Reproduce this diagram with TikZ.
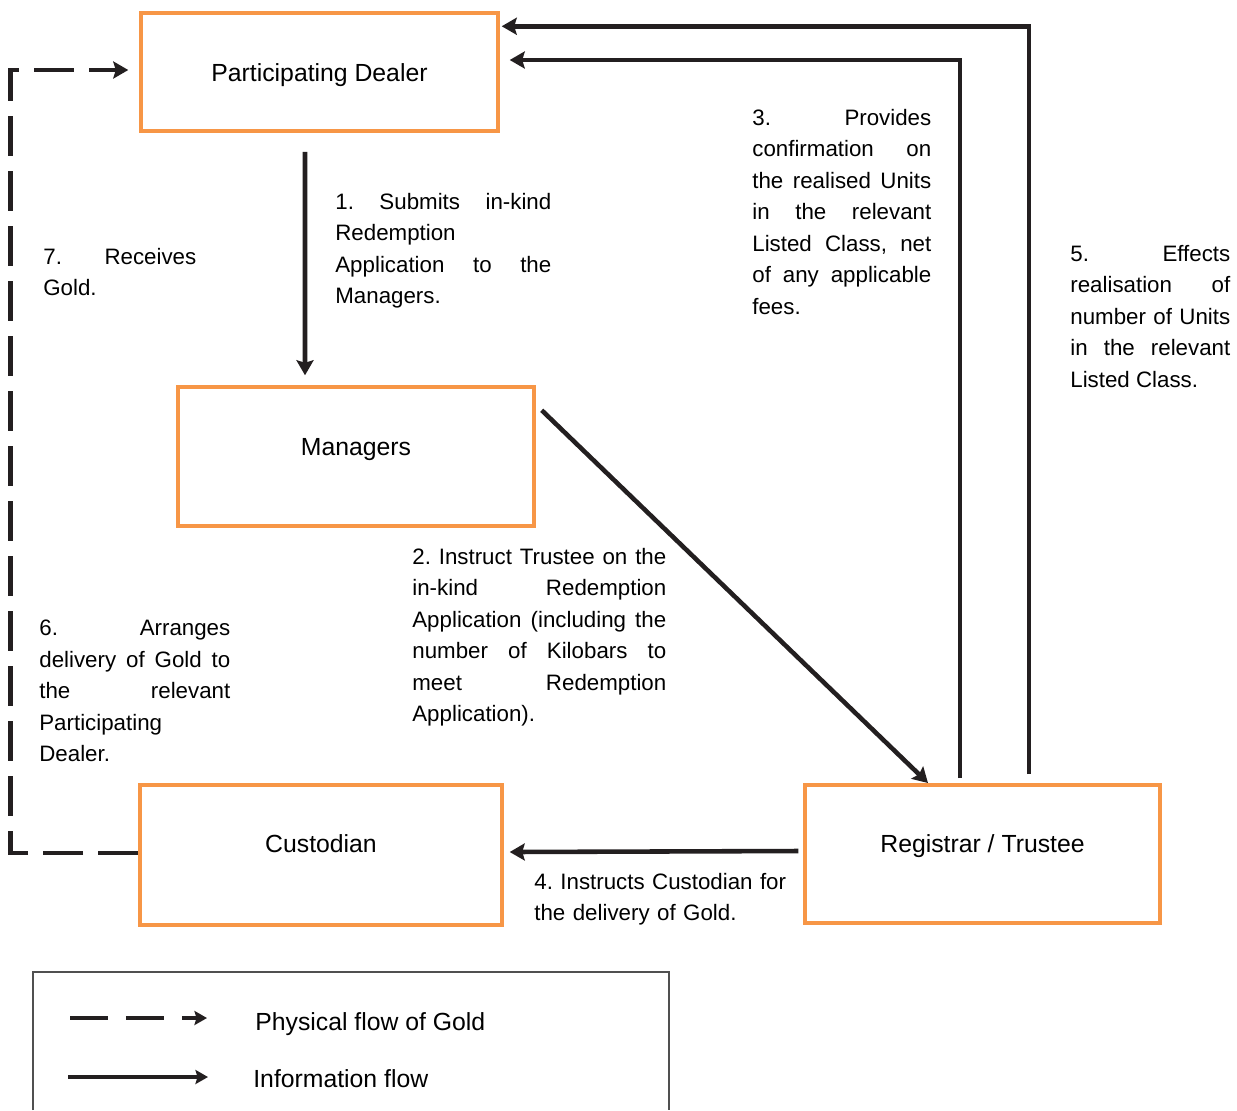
\documentclass[tikz,border=0pt]{standalone}
\usepackage{fontspec}
\setmainfont{Liberation Sans}
\usetikzlibrary{arrows.meta}
\definecolor{boxorange}{RGB}{247,150,70}
\definecolor{arrowgray}{RGB}{35,31,32}
\definecolor{framegray}{RGB}{80,80,80}

\begin{document}
\begin{tikzpicture}[x=0.02cm,y=-0.02cm,
        party/.style={draw=boxorange, line width=2pt, inner sep=0pt},
        partytext/.style={font=\fontsize{14.1}{17}\selectfont, inner sep=0pt},
        annot/.style={anchor=north west, inner sep=0pt, text width=#1, align=justify,
          font=\fontsize{12.7}{17.9}\selectfont\frenchspacing},
        info/.style={draw=arrowgray, line width=2.6pt, -{Stealth[length=0.3cm,width=0.34cm,inset=0.05cm]}},
        goldflow/.style={info, dash pattern=on 0.8cm off 0.3cm},
        legtip/.style={-{Stealth[length=0.25cm,width=0.28cm,inset=0.04cm]}}]
        \useasboundingbox (0,0) rectangle (1237,1110);

        % Parties.
        \node[party, minimum width=7.15cm, minimum height=2.37cm] (pd) at (319.5,72) {};
        \node[party, minimum width=7.13cm, minimum height=2.79cm] (mgr) at (356,456.5) {};
        \node[party, minimum width=7.25cm, minimum height=2.81cm] (cus) at (321,855) {};
        \node[party, minimum width=7.11cm, minimum height=2.77cm] (reg) at (982.5,854) {};
        \node[partytext] (pdt) at ([yshift=-0.06cm]pd.center) {Participating Dealer};
        \node[partytext] (mgrt) at ([yshift=0.13cm]mgr.center) {Managers};
        \node[partytext] (cust) at ([yshift=0.22cm]cus.center) {Custodian};
        \node[partytext] (regt) at ([yshift=0.16cm]reg.center) {Registrar / Trustee};

        % Information flow.
        \draw[info] ([xshift=-0.29cm,yshift=-0.375cm]pd.south) -- ([xshift=-1.02cm,yshift=0.195cm]mgr.north);
        \draw[info] ([xshift=0.115cm,yshift=-0.505cm]mgr.north east) -- ([xshift=-1.09cm]reg.north);
        \draw[info] ([xshift=-0.45cm,yshift=0.1cm]reg.north) |- ([xshift=0.195cm,yshift=0.24cm]pd.east);
        \draw[info] ([xshift=-0.095cm,yshift=0.06cm]reg.west) -- ([xshift=0.115cm,yshift=0.06cm]cus.east);
        \draw[info] ([xshift=0.93cm,yshift=0.18cm]reg.north) |- ([xshift=0.035cm,yshift=-0.305cm]pd.north east);

        % Physical flow of Gold.
        \draw[goldflow] ([yshift=0.04cm]cus.west) -- ++(-2.555cm,0) |- ([xshift=-0.215cm,yshift=0.04cm]pd.west);

        % Steps.
        \node[annot=4.32cm] (s1) at (335,193) {1. Submits in-kind\linebreak Redemption\linebreak Application to the\linebreak Managers.};
        \node[annot=5.08cm] (s2) at (412,548) {2. Instruct Trustee on the\linebreak in-kind Redemption\linebreak Application (including the\linebreak number of Kilobars to\linebreak meet Redemption\linebreak Application).};
        \node[annot=3.58cm] (s3) at (752,109) {3. Provides\linebreak confirmation on\linebreak the realised Units\linebreak in the relevant\linebreak Listed Class, net\linebreak of any applicable\linebreak fees.};
        \node[annot=5.2cm, align=left] (s4) at (534,873) {4. Instructs Custodian for\\the delivery of Gold.};
        \node[annot=3.2cm] (s5) at (1070,245) {5. Effects\linebreak realisation of\linebreak number of Units\linebreak in the relevant\linebreak Listed Class.};
        \node[annot=3.82cm] (s6) at (39,620) {6. Arranges\linebreak delivery of Gold to\linebreak the relevant\linebreak Participating\linebreak Dealer.};
        \node[annot=3.06cm] (s7) at (43,248) {7. Receives\linebreak Gold.};

        % Legend.
        \draw[framegray, line width=0.6pt] (33,1110) -- (33,972) -- (669,972) -- (669,1110);
        \coordinate (lg1a) at (70,1018);
        \coordinate (lg1b) at (207,1018);
        \coordinate (lg2a) at (68,1077);
        \coordinate (lg2b) at (208,1077);
        \draw[info, legtip, dash pattern=on 0.76cm off 0.36cm] (lg1a) -- (lg1b);
        \draw[info, legtip] (lg2a) -- (lg2b);
        \node[partytext, anchor=west] (lgt1) at (255,1024) {Physical flow of Gold};
        \node[partytext, anchor=west] (lgt2) at (253,1079) {Information flow};
      \end{tikzpicture}
\end{document}
